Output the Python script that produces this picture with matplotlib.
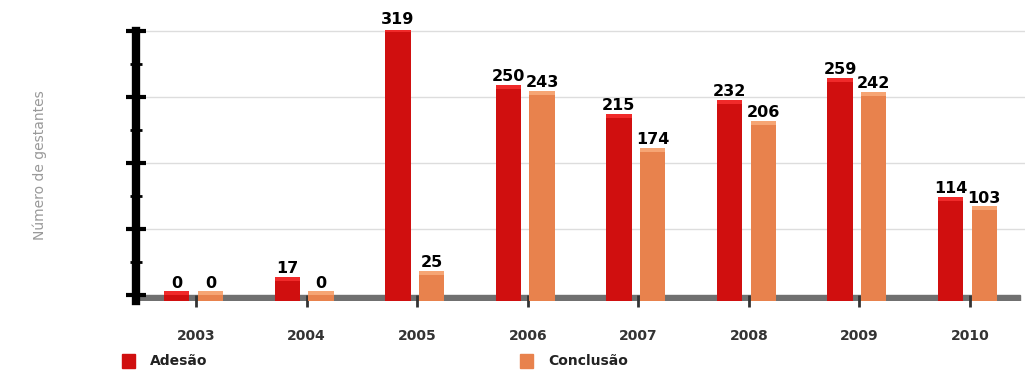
import matplotlib.pyplot as plt
import numpy as np
from matplotlib.patches import Rectangle

# dados
anos = ["2003", "2004", "2005", "2006", "2007", "2008", "2009", "2010"]
adesao = [0, 17, 319, 250, 215, 232, 259, 114]
conclusao = [0, 0, 25, 243, 174, 206, 242, 103]

cor_ades = "#d00f0f"
cor_ades_topo = "#f02a2a"
cor_conc = "#e8824d"
cor_conc_topo = "#f6a574"

fig = plt.figure(figsize=(10.31, 3.71), dpi=100)
ax = fig.add_axes([0.132, 0.188, 0.862, 0.732])

x = np.arange(len(anos))
w = 0.23
off_a = 0.175
off_c = 0.13
cap = 5    # altura da "face de cima" (efeito 3D)
chao = 7   # espessura do chao cinza

# grade e chao
for g in [80, 160, 240, 320]:
    ax.axhline(g, color="#dddddd", lw=1, zorder=0)
ax.axhspan(-chao, 1, xmin=0.0, xmax=0.995, color="#707070", zorder=1)

a = np.array(adesao)
c = np.array(conclusao)
ax.bar(x - off_a, a + chao, w, bottom=-chao, color=cor_ades, zorder=2)
ax.bar(x - off_a, cap, w, bottom=a, color=cor_ades_topo, zorder=2)
ax.bar(x + off_c, c + chao, w, bottom=-chao, color=cor_conc, zorder=2)
ax.bar(x + off_c, cap, w, bottom=c, color=cor_conc_topo, zorder=2)

for i in range(len(x)):
    ax.text(x[i] - off_a, adesao[i] + cap + 1, str(adesao[i]), ha="center", va="bottom",
            fontsize=11.5, fontweight="bold", color="black", zorder=3)
    ax.text(x[i] + off_c, conclusao[i] + cap + 1, str(conclusao[i]), ha="center", va="bottom",
            fontsize=11.5, fontweight="bold", color="black", zorder=3)

ax.set_xlim(-0.542, 7.496)
ax.set_ylim(-chao, 322)

ax.set_xticks(x)
ax.set_xticklabels(anos, fontsize=10, fontweight="bold", color="#333333")
ax.tick_params(axis="x", length=8, width=2, color="#333333", pad=16, direction="inout")

ax.set_yticks([0, 80, 160, 240, 320])
ax.set_yticks([40, 120, 200, 280], minor=True)
ax.set_yticklabels([])
ax.tick_params(axis="y", which="major", length=14, width=3, direction="inout", color="black")
ax.tick_params(axis="y", which="minor", length=8, width=2, direction="inout", color="black")

for s in ["top", "right", "bottom"]:
    ax.spines[s].set_visible(False)
ax.spines["left"].set_linewidth(6)
ax.spines["left"].set_color("black")
ax.spines["left"].set_bounds(-chao, 320)

fig.text(40 / 1031, 1 - 165 / 371, "Número de gestantes", rotation=90, ha="center", va="center",
         fontsize=10, color="#999999")

# legenda
fig.patches.append(Rectangle((122 / 1031, 1 - 368 / 371), 13 / 1031, 14 / 371,
                             transform=fig.transFigure, color=cor_ades))
fig.text(150 / 1031, 1 - 361 / 371, "Adesão", fontsize=10, fontweight="bold", color="#222222", va="center")
fig.patches.append(Rectangle((520 / 1031, 1 - 368 / 371), 13 / 1031, 14 / 371,
                             transform=fig.transFigure, color=cor_conc))
fig.text(548 / 1031, 1 - 361 / 371, "Conclusão", fontsize=10, fontweight="bold", color="#222222", va="center")

plt.savefig("out.png", dpi=100)
